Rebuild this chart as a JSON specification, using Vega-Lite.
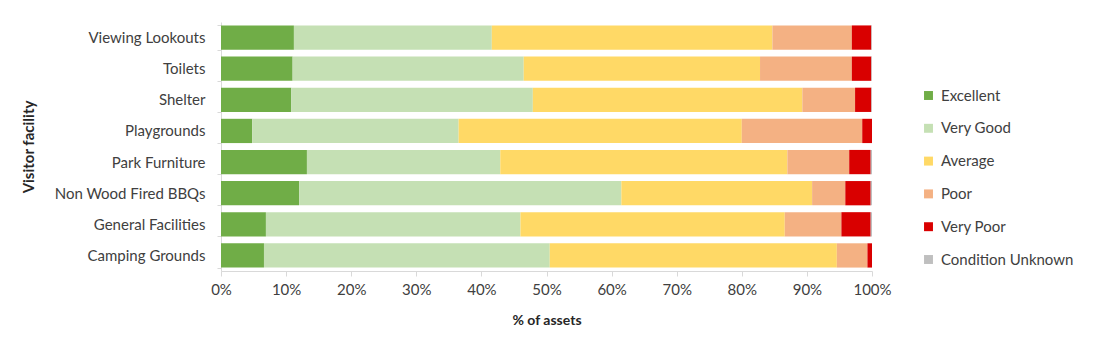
{
  "$schema": "https://vega.github.io/schema/vega-lite/v6.json",
  "width": 651,
  "height": 249,
  "autosize": {"type": "none"},
  "padding": {"left": 221, "top": 22, "right": 221, "bottom": 84},
  "background": "white",
  "config": {
    "view": {"stroke": null},
    "font": "Lato",
    "axis": {"labelFont": "Lato", "titleFont": "Lato", "labelColor": "#404040", "titleColor": "#262626"}
  },
  "data": {
    "values": [
      {"facility": "Viewing Lookouts", "condition": "Excellent", "o": 1, "pct": 11.2},
      {"facility": "Viewing Lookouts", "condition": "Very Good", "o": 2, "pct": 30.4},
      {"facility": "Viewing Lookouts", "condition": "Average", "o": 3, "pct": 43.1},
      {"facility": "Viewing Lookouts", "condition": "Poor", "o": 4, "pct": 12.2},
      {"facility": "Viewing Lookouts", "condition": "Very Poor", "o": 5, "pct": 3.0},
      {"facility": "Viewing Lookouts", "condition": "Condition Unknown", "o": 6, "pct": 0.1},
      {"facility": "Toilets", "condition": "Excellent", "o": 1, "pct": 11.0},
      {"facility": "Toilets", "condition": "Very Good", "o": 2, "pct": 35.5},
      {"facility": "Toilets", "condition": "Average", "o": 3, "pct": 36.3},
      {"facility": "Toilets", "condition": "Poor", "o": 4, "pct": 14.1},
      {"facility": "Toilets", "condition": "Very Poor", "o": 5, "pct": 3.0},
      {"facility": "Toilets", "condition": "Condition Unknown", "o": 6, "pct": 0.1},
      {"facility": "Shelter", "condition": "Excellent", "o": 1, "pct": 10.8},
      {"facility": "Shelter", "condition": "Very Good", "o": 2, "pct": 37.1},
      {"facility": "Shelter", "condition": "Average", "o": 3, "pct": 41.4},
      {"facility": "Shelter", "condition": "Poor", "o": 4, "pct": 8.1},
      {"facility": "Shelter", "condition": "Very Poor", "o": 5, "pct": 2.5},
      {"facility": "Shelter", "condition": "Condition Unknown", "o": 6, "pct": 0.1},
      {"facility": "Playgrounds", "condition": "Excellent", "o": 1, "pct": 4.8},
      {"facility": "Playgrounds", "condition": "Very Good", "o": 2, "pct": 31.7},
      {"facility": "Playgrounds", "condition": "Average", "o": 3, "pct": 43.5},
      {"facility": "Playgrounds", "condition": "Poor", "o": 4, "pct": 18.5},
      {"facility": "Playgrounds", "condition": "Very Poor", "o": 5, "pct": 1.5},
      {"facility": "Playgrounds", "condition": "Condition Unknown", "o": 6, "pct": 0.0},
      {"facility": "Park Furniture", "condition": "Excellent", "o": 1, "pct": 13.2},
      {"facility": "Park Furniture", "condition": "Very Good", "o": 2, "pct": 29.7},
      {"facility": "Park Furniture", "condition": "Average", "o": 3, "pct": 44.1},
      {"facility": "Park Furniture", "condition": "Poor", "o": 4, "pct": 9.5},
      {"facility": "Park Furniture", "condition": "Very Poor", "o": 5, "pct": 3.3},
      {"facility": "Park Furniture", "condition": "Condition Unknown", "o": 6, "pct": 0.2},
      {"facility": "Non Wood Fired BBQs", "condition": "Excellent", "o": 1, "pct": 12.0},
      {"facility": "Non Wood Fired BBQs", "condition": "Very Good", "o": 2, "pct": 49.5},
      {"facility": "Non Wood Fired BBQs", "condition": "Average", "o": 3, "pct": 29.3},
      {"facility": "Non Wood Fired BBQs", "condition": "Poor", "o": 4, "pct": 5.1},
      {"facility": "Non Wood Fired BBQs", "condition": "Very Poor", "o": 5, "pct": 3.9},
      {"facility": "Non Wood Fired BBQs", "condition": "Condition Unknown", "o": 6, "pct": 0.2},
      {"facility": "General Facilities", "condition": "Excellent", "o": 1, "pct": 6.9},
      {"facility": "General Facilities", "condition": "Very Good", "o": 2, "pct": 39.1},
      {"facility": "General Facilities", "condition": "Average", "o": 3, "pct": 40.6},
      {"facility": "General Facilities", "condition": "Poor", "o": 4, "pct": 8.7},
      {"facility": "General Facilities", "condition": "Very Poor", "o": 5, "pct": 4.5},
      {"facility": "General Facilities", "condition": "Condition Unknown", "o": 6, "pct": 0.2},
      {"facility": "Camping Grounds", "condition": "Excellent", "o": 1, "pct": 6.6},
      {"facility": "Camping Grounds", "condition": "Very Good", "o": 2, "pct": 43.9},
      {"facility": "Camping Grounds", "condition": "Average", "o": 3, "pct": 44.1},
      {"facility": "Camping Grounds", "condition": "Poor", "o": 4, "pct": 4.7},
      {"facility": "Camping Grounds", "condition": "Very Poor", "o": 5, "pct": 0.7},
      {"facility": "Camping Grounds", "condition": "Condition Unknown", "o": 6, "pct": 0.0}
    ]
  },
  "mark": {"type": "bar"},
  "encoding": {
    "y": {
      "field": "facility",
      "type": "nominal",
      "sort": ["Viewing Lookouts", "Toilets", "Shelter", "Playgrounds", "Park Furniture", "Non Wood Fired BBQs", "General Facilities", "Camping Grounds"],
      "scale": {"paddingInner": 0.22, "paddingOuter": 0.11},
      "axis": {
        "title": "Visitor facility",
        "titleFontSize": 15,
        "titleFontWeight": "bold",
        "titleX": -193,
        "titleY": 124.5,
        "titleAngle": -90,
        "titleAlign": "center",
        "titleBaseline": "middle",
        "labelFontSize": 15,
        "labelPadding": 12,
        "tickBand": "extent",
        "tickSize": 4,
        "tickColor": "#D9D9D9",
        "domainColor": "#D9D9D9",
        "grid": false
      }
    },
    "x": {
      "field": "pct",
      "type": "quantitative",
      "stack": "normalize",
      "scale": {"domain": [0, 1], "nice": false},
      "axis": {
        "title": "% of assets",
        "titleFontSize": 14,
        "titleFontWeight": "bold",
        "titleY": 49,
        "titleBaseline": "middle",
        "format": ".0%",
        "values": [0, 0.1, 0.2, 0.3, 0.4, 0.5, 0.6, 0.7, 0.8, 0.9, 1.0],
        "labelFontSize": 15,
        "labelFlush": false,
        "labelPadding": 6,
        "tickSize": 5,
        "tickColor": "#D9D9D9",
        "domainColor": "#D9D9D9",
        "grid": false
      }
    },
    "color": {
      "field": "condition",
      "type": "nominal",
      "scale": {
        "domain": ["Excellent", "Very Good", "Average", "Poor", "Very Poor", "Condition Unknown"],
        "range": ["#70AD47", "#C5E0B4", "#FFD966", "#F4B183", "#D90000", "#BFBFBF"]
      },
      "legend": {
        "title": null,
        "orient": "none",
        "legendX": 700,
        "legendY": 66,
        "symbolType": "square",
        "symbolSize": 80,
        "symbolStrokeWidth": 0,
        "labelFontSize": 15,
        "labelColor": "#404040",
        "labelFont": "Lato",
        "rowPadding": 16.8,
        "labelOffset": 5
      }
    },
    "order": {"field": "o", "type": "quantitative"}
  }
}
